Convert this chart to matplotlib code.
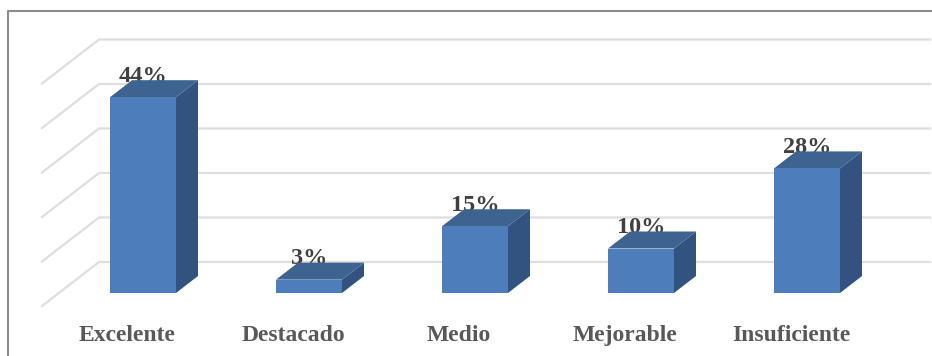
import matplotlib
matplotlib.use('Agg')
import matplotlib.pyplot as plt
from matplotlib.patches import Polygon

categories = ['Excelente', 'Destacado', 'Medio', 'Mejorable', 'Insuficiente']
values = [44, 3, 15, 10, 28]
grid_values = [0, 10, 20, 30, 40, 50]

PX_X = 166.0   # pixels per category
PX_Y = 4.45    # pixels per percent
W, H = 932, 356
bar_w = 66 / PX_X
dx, dy = 22 / PX_X, 17 / PX_Y   # bar depth

fig = plt.figure(figsize=(W / 100, H / 100), dpi=100)
ax = fig.add_axes([0, 0, 1, 1])
ax.set_xlim(-143 / PX_X, (W - 143) / PX_X)
ax.set_ylim(-(H - 293) / PX_Y, 293 / PX_Y)
ax.axis('off')

# gridlines, floor edge then back wall
x_front, x_back, x_end = (42 - 143) / PX_X, (99 - 143) / PX_X, (930 - 143) / PX_X
y_front, y_back = -13 / PX_Y, 31 / PX_Y
for g in grid_values:
    ax.plot([x_front, x_back, x_end], [g + y_front, g + y_back, g + y_back],
            color='#dedede', lw=1.6, zorder=1, solid_joinstyle='miter')

# 3d bars
for i, v in enumerate(values):
    l, r = i - bar_w / 2, i + bar_w / 2
    ax.add_patch(Polygon([(r, 0), (r + dx, dy), (r + dx, v + dy), (r, v)],
                         fc='#325380', ec='none', zorder=2))
    ax.add_patch(Polygon([(l, v), (r, v), (r + dx, v + dy), (l + dx, v + dy)],
                         fc='#3d6390', ec='none', zorder=2))
    ax.bar(i, v, width=bar_w, color='#4d7ebb', zorder=3)
    ax.text(i, v + 3.5, f'{v}%', ha='center', va='baseline', zorder=1.5,
            fontsize=17.5, fontweight='bold', family='Liberation Serif', color='#404040')
    ax.text(i - 16 / PX_X, -(341 - 293) / PX_Y, categories[i],
            ha='center', va='baseline', fontsize=17, fontweight='bold',
            family='Liberation Serif', color='#595959')

# outer frame, top and left only
ax.plot([(7.5 - 143) / PX_X, (7.5 - 143) / PX_X, (W - 143) / PX_X],
        [-(H - 293) / PX_Y, (293 - 11) / PX_Y, (293 - 11) / PX_Y],
        color='#8c8c8c', lw=1.5, zorder=4)

fig.savefig('out.png', dpi=100, facecolor='white')
